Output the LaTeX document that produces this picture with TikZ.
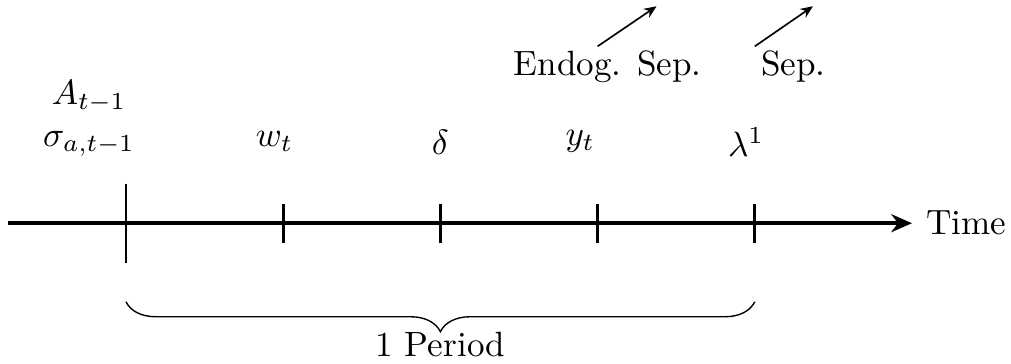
\documentclass[tikz,border=0pt]{standalone}
\usepackage{amsmath,amssymb}
\usepackage{tikz}
\usetikzlibrary{arrows.meta,positioning,decorations.pathreplacing}

\begin{document}
\begin{tikzpicture}[
  >=Stealth,
  axis/.style={line width=1.4pt, -{Stealth[length=7.5pt,width=6.5pt]}},
  tickmark/.style={line width=1pt},
  event/.style={inner sep=1.5pt, align=center, scale=1.27},
  seplink/.style={-{Stealth[length=4.5pt,width=3.8pt]}, line width=0.6pt},
  period/.style={decorate, decoration={brace, mirror, amplitude=0.38cm}, line width=0.5pt}
]
\useasboundingbox (-1.603,-1.79) rectangle (11.26,2.84);

% time axis
\coordinate (start) at (-1.5,0);
\coordinate (stop) at (10,0);
\draw[axis] (start) -- (stop);
\node[event, right=3pt of stop] (time) {Time};

% ticks
\draw[tickmark] (0,0.5) -- (0,-0.5);
\foreach \x in {2,4,6,8}
  \draw[tickmark] (\x,0.25) -- (\x,-0.25);

% events
\node[event] (state) at (-0.47,1.33) {$A_{t-1}$\\$\sigma_{a,t-1}$};
\node[event] (wage) at (1.89,1.04) {$w_t$};
\node[event] (shock) at (4,1.03) {$\delta$};
\node[event] (output) at (5.78,1.04) {$y_t$};
\node[event] (lambda) at (7.89,1.03) {$\lambda^1$};

% separations
\node[event, anchor=base] (endog) at (6.13,1.88) {Endog. Sep.};
\node[event, anchor=base] (exog) at (8.49,1.88) {Sep.};
\coordinate (endogtail) at (6,2.25);
\coordinate (endoghead) at (6.75,2.76);
\coordinate (exogtail) at (8,2.25);
\coordinate (exoghead) at (8.74,2.76);
\draw[seplink] (endogtail) -- (endoghead);
\draw[seplink] (exogtail) -- (exoghead);

% one period
\coordinate (pstart) at (0,-1);
\coordinate (pend) at (8,-1);
\draw[period] (pstart) -- (pend);
\node[event, anchor=base] (plabel) at (4,-1.70) {1 Period};

\end{tikzpicture}
\end{document}
